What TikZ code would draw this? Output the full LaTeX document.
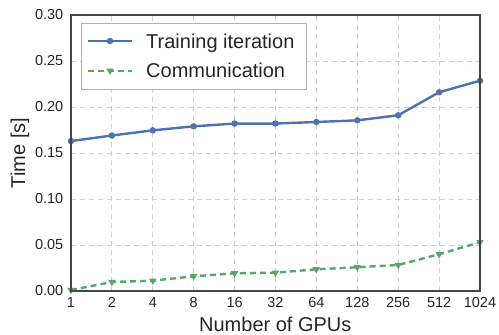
\documentclass[tikz,border=0pt]{standalone}
\usepackage{fontspec}
\setmainfont{Liberation Sans}
\usetikzlibrary{shapes.geometric}
\definecolor{sbblue}{HTML}{4C72B0}
\definecolor{sbgreen}{HTML}{55A868}
\definecolor{gridc}{HTML}{CFCFCF}
\definecolor{spinec}{HTML}{454545}
\definecolor{txtc}{HTML}{262626}
\definecolor{legc}{HTML}{B0B0B0}
\tikzset{
  gridline/.style={draw=gridc, line width=0.9pt, dash pattern=on 5pt off 4pt},
  spineline/.style={draw=spinec, line width=1.2pt},
  ticklabel/.style={inner sep=0pt, text=txtc, font=\fontsize{14.5}{16}\selectfont},
  axislabel/.style={inner sep=0pt, text=txtc, font=\fontsize{20}{22}\selectfont},
  leglabel/.style={inner sep=0pt, text=txtc, font=\fontsize{20}{22}\selectfont, anchor=base west},
  trainline/.style={draw=sbblue, line width=2.4pt, line join=round},
  commline/.style={draw=sbgreen, line width=2.4pt, dash pattern=on 6pt off 4pt},
  trainmark/.style={circle, fill=sbblue, inner sep=0pt, minimum size=6.5pt},
  commmark/.style={regular polygon, regular polygon sides=3, shape border rotate=180, fill=sbgreen, inner sep=0pt, minimum size=8.5pt},
  legbox/.style={draw=legc, fill=white, line width=0.9pt}
}
\begin{document}
\begin{tikzpicture}[x=1pt,y=-1pt]
\useasboundingbox (0,0) rectangle (499,335);
\begin{scope}[shift={(71,291)}, x=40.9pt, y=920pt]
  % grid
  \foreach \i in {1,...,9} \draw[gridline] (\i,0) -- (\i,0.30);
  \foreach \v in {0.05,0.10,0.15,0.20,0.25} \draw[gridline] (0,\v) -- (10,\v);
  % y tick labels
  \foreach \v/\t in {0/0.00,0.05/0.05,0.10/0.10,0.15/0.15,0.20/0.20,0.25/0.25,0.30/0.30}
    \node[ticklabel, anchor=east, xshift=-7.5pt] (yt\t) at (0,\v) {\t};
  % x tick labels
  \foreach \l [count=\i from 0] in {1,2,4,8,16,32,64,128,256,512,1024}
    \node[ticklabel, anchor=north, yshift=-6pt] (xt\l) at (\i,0) {\l};
  % data
  \draw[trainline] plot coordinates {(0,0.163) (1,0.169) (2,0.1746) (3,0.179) (4,0.182) (5,0.182) (6,0.1837) (7,0.1855) (8,0.191) (9,0.216) (10,0.2286)};
  \foreach \v [count=\i from 0] in {0.163,0.169,0.1746,0.179,0.182,0.182,0.1837,0.1855,0.191,0.216,0.2286}
    \node[trainmark] (tm\i) at (\i,\v) {};
  \draw[commline] plot coordinates {(0,0.001) (1,0.0098) (2,0.0112) (3,0.016) (4,0.0192) (5,0.0199) (6,0.0236) (7,0.0258) (8,0.0283) (9,0.040) (10,0.053)};
  \foreach \v [count=\i from 0] in {0.001,0.0098,0.0112,0.016,0.0192,0.0199,0.0236,0.0258,0.0283,0.040,0.053}
    \node[commmark] (cm\i) at (\i,\v) {};
  % spines
  \draw[spineline] (0,0) rectangle (10,0.30);
\end{scope}
% axis labels
\node[axislabel, anchor=north] (xlabel) at (275.3,316.5) {Number of GPUs};
\node[axislabel, anchor=base, rotate=90] (ylabel) at (25,153) {Time [s]};
% legend
\draw[legbox] (81.7,23.3) rectangle (306.7,89.3);
\coordinate (l1a) at (88,41);
\coordinate (l1b) at (131.7,41);
\draw[trainline] (l1a) -- (l1b);
\node[trainmark] (lm1) at (110,41) {};
\node[leglabel] (leg1) at (146,48.3) {Training iteration};
\coordinate (l2a) at (88,70.7);
\coordinate (l2b) at (131.7,70.7);
\draw[commline] (l2a) -- (l2b);
\node[commmark] (lm2) at (110,70.7) {};
\node[leglabel] (leg2) at (146,77.8) {Communication};
\end{tikzpicture}
\end{document}
